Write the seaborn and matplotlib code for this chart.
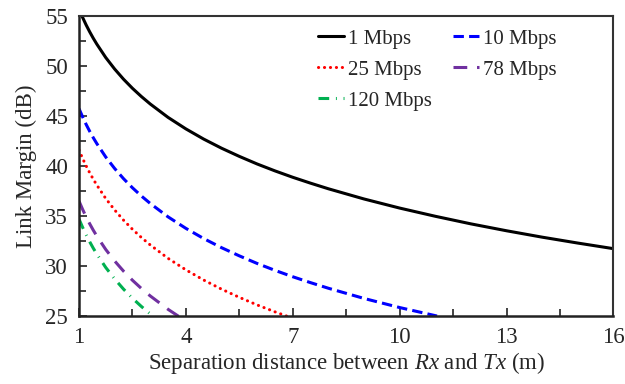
"""
Link margin vs. separation distance for several data rates.
"""

import matplotlib.pyplot as plt
import seaborn as sns

sns.set_theme(style="white")
plt.rcParams["font.family"] = ["Liberation Serif", "DejaVu Serif"]
plt.rcParams["mathtext.fontset"] = "custom"
plt.rcParams["mathtext.it"] = "Liberation Serif:italic"
plt.rcParams["mathtext.rm"] = "Liberation Serif"

# Values
dist_1 = [1, 1.1, 1.2, 1.3, 1.4, 1.5, 1.75, 2, 2.25, 2.5, 2.75, 3, 3.5, 4, 4.5, 5, 5.5,
          6, 6.5, 7, 7.5, 8, 9, 10, 11, 12, 13, 14, 15, 16]
margin_1 = [55.70, 54.88, 54.12, 53.43, 52.79, 52.20, 50.86, 49.71, 48.69, 47.78, 46.96,
            46.21, 44.87, 43.72, 42.70, 41.79, 40.97, 40.21, 39.52, 38.88, 38.29, 37.73,
            36.71, 35.80, 34.98, 34.22, 33.53, 32.89, 32.30, 31.74]

dist_10 = [1, 1.1, 1.2, 1.3, 1.4, 1.5, 1.75, 2, 2.25, 2.5, 2.75, 3, 3.5, 4, 4.5, 5, 5.5,
           6, 6.5, 7, 7.5, 8, 9, 10, 11.05]
margin_10 = [45.75, 44.93, 44.17, 43.48, 42.84, 42.25, 40.91, 39.76, 38.74, 37.83, 37.01,
             36.26, 34.92, 33.77, 32.75, 31.84, 31.02, 30.26, 29.57, 28.93, 28.34, 27.78,
             26.76, 25.85, 25.00]

dist_25 = [1, 1.1, 1.2, 1.3, 1.4, 1.5, 1.75, 2, 2.25, 2.5, 2.75, 3, 3.5, 4, 4.5, 5, 5.5,
           6, 6.5, 6.85]
margin_25 = [41.60, 40.78, 40.02, 39.33, 38.69, 38.10, 36.76, 35.61, 34.59, 33.68, 32.86,
             32.11, 30.77, 29.62, 28.60, 27.69, 26.87, 26.11, 25.42, 24.97]

dist_78 = [1, 1.1, 1.2, 1.3, 1.4, 1.5, 1.75, 2, 2.25, 2.5, 2.75, 3, 3.5, 3.8]
margin_78 = [36.50, 35.68, 34.92, 34.23, 33.59, 33.00, 31.66, 30.51, 29.49, 28.58, 27.76,
             27.01, 25.67, 24.96]

dist_120 = [1, 1.1, 1.2, 1.3, 1.4, 1.5, 1.75, 2, 2.25, 2.5, 2.75, 3, 3.1]
margin_120 = [34.70, 33.88, 33.12, 32.43, 31.79, 31.20, 29.86, 28.71, 27.69, 26.78, 25.96,
              25.21, 24.92]

labels = ["1 Mbps", "10 Mbps", "25 Mbps", "78 Mbps", "120 Mbps"]
colors = ["black", "#0000FF", "#FF0000", "#7030A0", "#00B050"]
dashes = [None, (3.4, 1.7), (0.05, 1.9), (4.5, 3.2), (3.5, 2.2, 0.3, 2.2)]

x_ticks = [1, 4, 7, 10, 13, 16]
x_minor = [2.5, 5.5, 8.5, 11.5, 14.5]

series = [
    (dist_1, margin_1),
    (dist_10, margin_10),
    (dist_25, margin_25),
    (dist_78, margin_78),
    (dist_120, margin_120),
]

fig = plt.figure(figsize=(6.25, 3.84), dpi=100)
ax = fig.add_axes([0.1264, 0.177, 0.855, 0.781])

handles = []
for (x, y), label, color, dash in zip(series, labels, colors, dashes):
    sns.lineplot(x=x, y=y, ax=ax, color=color, linewidth=2.2, label=label)
    ln = ax.get_lines()[-1]
    if dash is not None:
        ln.set_dashes(dash)
        ln.set_dash_capstyle("round" if label == "25 Mbps" else "butt")
    handles.append(ln)

ax.set_xlim(1, 16)
ax.set_ylim(25, 55)
ax.set_xticks(x_ticks)
ax.set_xticks(x_minor, minor=True)
ax.set_yticks([25, 30, 35, 40, 45, 50, 55])
ax.set_yticks([27.5, 32.5, 37.5, 42.5, 47.5, 52.5], minor=True)

ax.tick_params(which="both", direction="in", labelsize=16.5, color="#222222",
               left=True, bottom=True, right=False, top=False)
ax.tick_params(which="major", length=6, width=1.2, pad=8)
ax.tick_params(which="minor", length=5, width=1.2)

for side in ["left", "bottom"]:
    ax.spines[side].set_linewidth(1.8)
    ax.spines[side].set_color("#222222")
for side in ["right", "top"]:
    ax.spines[side].set_linewidth(1.5)
    ax.spines[side].set_color("#333333")

ax.set_xlabel(r"Separation distance between $\it{Rx}$ and $\it{Tx}$ (m)",
              fontsize=16.5, labelpad=1)
ax.set_ylabel("Link Margin (dB)", fontsize=16.5, labelpad=6)

# Row-major legend order: matplotlib fills columns first
order = [0, 2, 4, 1, 3]
ax.legend([handles[i] for i in order], [labels[i] for i in order],
          loc="upper left", bbox_to_anchor=(0.431, 0.985), ncol=2, frameon=False,
          fontsize=15, handlelength=1.25, handletextpad=0.2, columnspacing=1.0,
          labelspacing=0.55, borderaxespad=0)

fig.savefig("out.png", dpi=100)
plt.close(fig)
